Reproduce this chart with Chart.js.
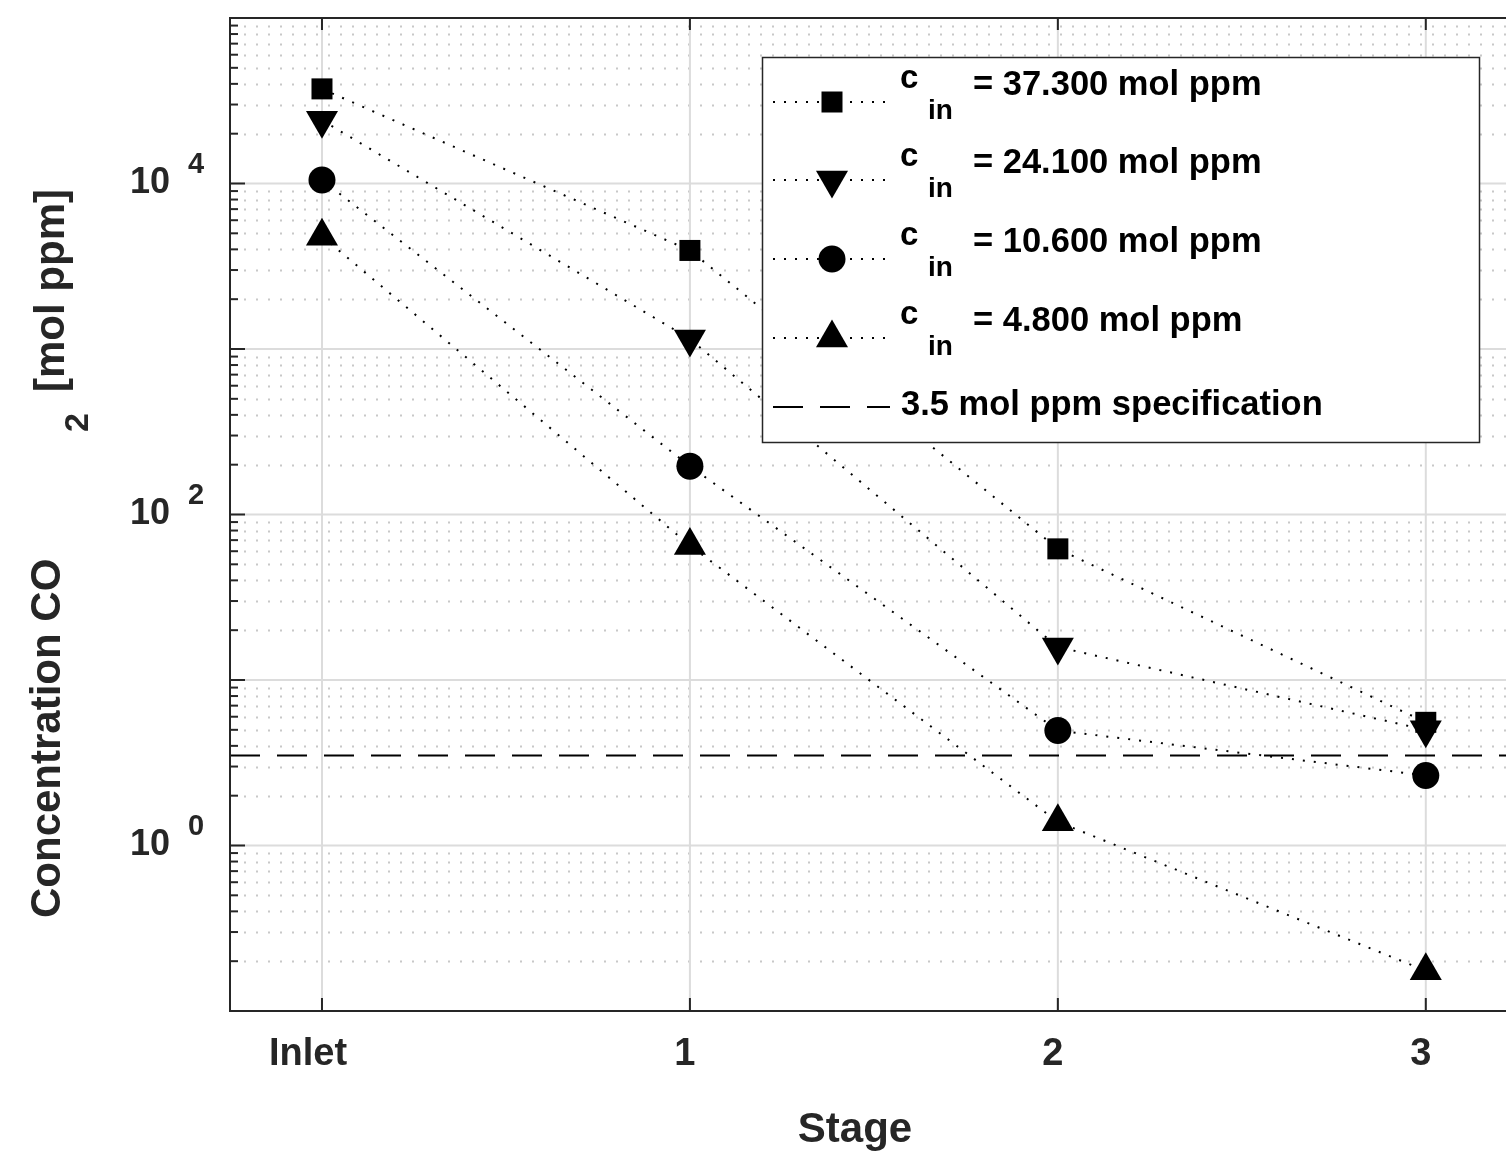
<!DOCTYPE html>
<html>
<head>
<meta charset="utf-8">
<script src="https://cdn.jsdelivr.net/npm/chart.js@4.4.1/dist/chart.umd.min.js"></script>
<style>
  html, body { margin: 0; padding: 0; background: #fff; }
</style>
</head>
<body>
<canvas id="chart" width="1506" height="1152"></canvas>
<script>
// Datos
const stages = ['Inlet', '1', '2', '3'];
const inletLabels = ['37.300', '24.100', '10.600', '4.800'];
const seriesSquare = [37300, 3940, 62, 5.55];
const seriesDown = [24100, 1150, 15.8, 5.0];
const seriesCircle = [10500, 196, 4.95, 2.65];
const seriesUp = [4800, 65, 1.39, 0.175];
const specValue = 3.5;
const yLabelExponents = [0, 2, 4];

const axisColor = '#262626';
const FONT = '"Liberation Sans", Arial, Helvetica, sans-serif';

function toPoints(values) {
    return values.map((v, i) => ({ x: i, y: v }));
}

const markerStyles = [
    { pointStyle: 'rect', radius: 14.85, rotation: 0 },
    { pointStyle: 'triangle', radius: 18.5, rotation: 180 },
    { pointStyle: 'circle', radius: 13.5, rotation: 0 },
    { pointStyle: 'triangle', radius: 18.5, rotation: 0 }
];

const allSeries = [seriesSquare, seriesDown, seriesCircle, seriesUp];

const datasets = allSeries.map((values, i) => ({
    label: 'c_in = ' + inletLabels[i] + ' mol ppm',
    data: toPoints(values),
    borderColor: '#000',
    backgroundColor: '#000',
    borderWidth: 2,
    borderDash: [2, 9],
    pointStyle: markerStyles[i].pointStyle,
    pointRadius: markerStyles[i].radius,
    pointRotation: markerStyles[i].rotation,
    pointBorderWidth: 0,
    pointBackgroundColor: '#000',
    tension: 0
}));

// Línea de especificación
datasets.push({
    label: '3.5 mol ppm specification',
    data: [{ x: -0.25, y: specValue }, { x: 3.4, y: specValue }],
    borderColor: '#000',
    borderWidth: 2,
    borderDash: [30, 17],
    pointRadius: 0,
    tension: 0
});

// Dibujar un marcador como en la leyenda
function drawMarker(ctx, idx, x, y) {
    const m = markerStyles[idx];
    ctx.save();
    ctx.fillStyle = '#000';
    ctx.beginPath();
    if (m.pointStyle === 'rect') {
        const s = Math.SQRT1_2 * m.radius;
        ctx.rect(x - s, y - s, 2 * s, 2 * s);
    } else if (m.pointStyle === 'circle') {
        ctx.arc(x, y, m.radius, 0, Math.PI * 2);
    } else {
        let rad = m.rotation * Math.PI / 180;
        for (let k = 0; k < 3; k++) {
            const px = x + Math.sin(rad) * m.radius;
            const py = y - Math.cos(rad) * m.radius;
            if (k === 0) ctx.moveTo(px, py); else ctx.lineTo(px, py);
            rad += 2 * Math.PI / 3;
        }
        ctx.closePath();
    }
    ctx.fill();
    ctx.restore();
}

const matlabAxes = {
    id: 'matlabAxes',
    beforeDatasetsDraw(chart) {
        const ctx = chart.ctx;
        const a = chart.chartArea;
        const xs = chart.scales.x;
        const ys = chart.scales.y;
        ctx.save();
        ctx.beginPath();
        ctx.rect(a.left, a.top, a.right - a.left, a.bottom - a.top);
        ctx.clip();
        // rejilla menor (punteada)
        ctx.strokeStyle = '#c8c8c8';
        ctx.lineWidth = 2;
        ctx.setLineDash([2, 10]);
        for (let e = -1; e < 5; e++) {
            for (let m = 2; m <= 9; m++) {
                const py = Math.round(ys.getPixelForValue(m * Math.pow(10, e))) + 0.5;
                ctx.beginPath();
                ctx.moveTo(a.left + 14, py);
                ctx.lineTo(a.right, py);
                ctx.stroke();
            }
        }
        // rejilla mayor
        ctx.setLineDash([]);
        ctx.strokeStyle = '#dcdcdc';
        ctx.lineWidth = 2;
        for (let e = -1; e <= 5; e++) {
            const py = ys.getPixelForValue(Math.pow(10, e));
            ctx.beginPath();
            ctx.moveTo(a.left, py);
            ctx.lineTo(a.right, py);
            ctx.stroke();
        }
        stages.forEach((s, i) => {
            const px = xs.getPixelForValue(i);
            ctx.beginPath();
            ctx.moveTo(px, a.top);
            ctx.lineTo(px, a.bottom);
            ctx.stroke();
        });
        ctx.restore();
    },
    afterDatasetsDraw(chart) {
        const ctx = chart.ctx;
        const a = chart.chartArea;
        const xs = chart.scales.x;
        const ys = chart.scales.y;
        ctx.save();
        ctx.strokeStyle = axisColor;
        ctx.lineWidth = 2;
        ctx.setLineDash([]);
        // ejes
        ctx.beginPath();
        ctx.moveTo(a.right, a.top);
        ctx.lineTo(a.left, a.top);
        ctx.lineTo(a.left, a.bottom);
        ctx.lineTo(a.right, a.bottom);
        ctx.stroke();
        // marcas del eje y
        for (let e = -1; e < 5; e++) {
            for (let m = 1; m <= 9; m++) {
                const py = ys.getPixelForValue(m * Math.pow(10, e));
                const len = m === 1 ? 15 : 8;
                ctx.beginPath();
                ctx.moveTo(a.left, py);
                ctx.lineTo(a.left + len, py);
                ctx.stroke();
            }
        }
        // marcas del eje x
        stages.forEach((s, i) => {
            const px = xs.getPixelForValue(i);
            ctx.beginPath();
            ctx.moveTo(px, a.bottom);
            ctx.lineTo(px, a.bottom - 13);
            ctx.moveTo(px, a.top);
            ctx.lineTo(px, a.top + 12);
            ctx.stroke();
        });

        ctx.fillStyle = axisColor;
        // etiquetas eje y
        yLabelExponents.forEach(e => {
            const py = ys.getPixelForValue(Math.pow(10, e));
            ctx.font = 'bold 36px ' + FONT;
            ctx.textAlign = 'right';
            ctx.fillText('10', 170, py + 9);
            ctx.font = 'bold 29px ' + FONT;
            ctx.textAlign = 'left';
            ctx.fillText(String(e), 188, py - 11);
        });
        // etiquetas eje x
        ctx.font = 'bold 38px ' + FONT;
        ctx.textAlign = 'center';
        stages.forEach((s, i) => {
            const px = xs.getPixelForValue(i);
            const off = i === 0 ? -14 : -5;
            ctx.fillText(s, px + off, 1065);
        });
        // títulos
        ctx.font = 'bold 42px ' + FONT;
        ctx.fillText('Stage', 855, 1142);

        ctx.textAlign = 'left';
        ctx.save();
        ctx.translate(60, 918);
        ctx.rotate(-Math.PI / 2);
        ctx.fillText('Concentration CO', 0, 0);
        ctx.restore();
        ctx.save();
        ctx.translate(88, 432);
        ctx.rotate(-Math.PI / 2);
        ctx.font = 'bold 34px ' + FONT;
        ctx.fillText('2', 0, 0);
        ctx.restore();
        ctx.save();
        ctx.translate(64, 392);
        ctx.rotate(-Math.PI / 2);
        ctx.fillText('[mol ppm]', 0, 0);
        ctx.restore();

        // leyenda
        ctx.fillStyle = '#fff';
        ctx.fillRect(762, 57, 718, 386);
        ctx.strokeStyle = axisColor;
        ctx.lineWidth = 1.5;
        ctx.strokeRect(762.5, 57.5, 717, 385);

        const lineYs = [102, 180, 259, 338];
        lineYs.forEach((ly, i) => {
            ctx.strokeStyle = '#000';
            ctx.lineWidth = 2;
            ctx.setLineDash([2, 9]);
            ctx.beginPath();
            ctx.moveTo(773, ly);
            ctx.lineTo(888, ly);
            ctx.stroke();
            ctx.setLineDash([]);
            drawMarker(ctx, i, 832, ly);
            ctx.fillStyle = '#000';
            ctx.textAlign = 'left';
            ctx.font = 'bold 33px ' + FONT;
            ctx.fillText('c', 900, ly - 14);
            ctx.font = 'bold 28px ' + FONT;
            ctx.fillText('in', 928, ly + 17);
            ctx.font = 'bold 34.5px ' + FONT;
            ctx.fillText('= ' + inletLabels[i] + ' mol ppm', 973, ly - 7);
        });
        ctx.strokeStyle = '#000';
        ctx.lineWidth = 2;
        ctx.setLineDash([30, 17]);
        ctx.beginPath();
        ctx.moveTo(773, 407);
        ctx.lineTo(890, 407);
        ctx.stroke();
        ctx.setLineDash([]);
        ctx.font = 'bold 34.5px ' + FONT;
        ctx.fillText('3.5 mol ppm specification', 901, 415);
        ctx.restore();
    }
};

const chart = new Chart(document.getElementById('chart').getContext('2d'), {
    type: 'line',
    data: { datasets: datasets },
    options: {
        responsive: false,
        animation: false,
        devicePixelRatio: 1,
        layout: { autoPadding: false, padding: { top: 18, right: 0, left: 0, bottom: 0 } },
        plugins: {
            legend: { display: false },
            tooltip: { enabled: false },
            title: { display: false }
        },
        scales: {
            x: {
                type: 'linear',
                min: -0.25,
                max: 3.218,
                grid: { display: false },
                border: { display: false },
                ticks: { display: false },
                afterFit(scale) { scale.height = 141; }
            },
            y: {
                type: 'logarithmic',
                min: 0.1,
                max: 100000,
                grid: { display: false },
                border: { display: false },
                ticks: { display: false },
                afterFit(scale) { scale.width = 230; }
            }
        }
    },
    plugins: [matlabAxes]
});
</script>
</body>
</html>
